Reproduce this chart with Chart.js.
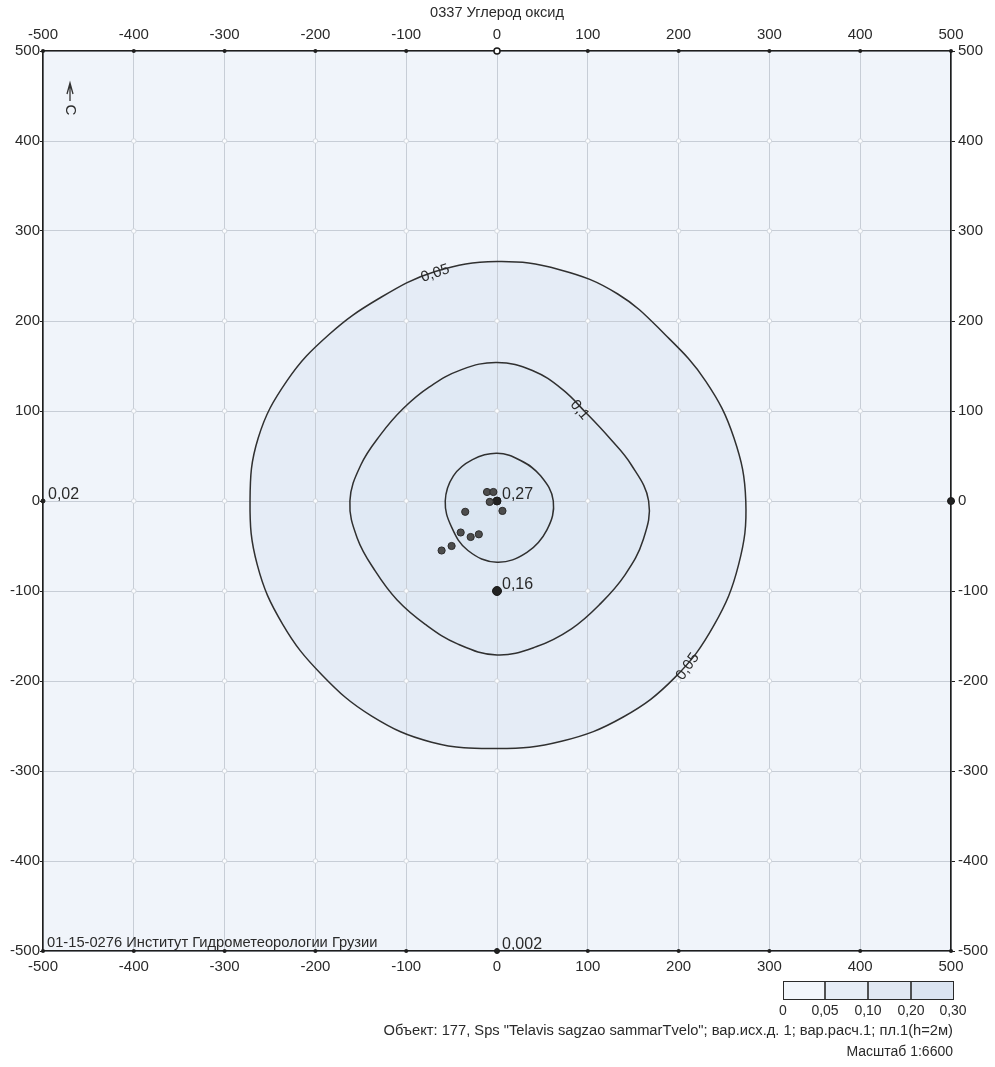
<!DOCTYPE html>
<html>
<head>
<meta charset="utf-8">
<script src="https://cdn.jsdelivr.net/npm/chart.js@4.4.1/dist/chart.umd.min.js"></script>
<style>
  html, body { margin: 0; padding: 0; background: #ffffff; }
  #wrap { width: 995px; height: 1067px; }
</style>
</head>
<body>
<div id="wrap"><canvas id="c" width="995" height="1067"></canvas></div>
<script>
// ---- data -------------------------------------------------------------
const title = '0337 Углерод оксид';
const axisTicks = [-500, -400, -300, -200, -100, 0, 100, 200, 300, 400, 500];

// isolines, metres from the site centre, traced counter-clockwise from the east
const isoline005 = [
  [274, 0], [261, 70], [230, 133], [185, 185], [133, 230], [69, 257], [0, 266],
  [-68, 255], [-130, 225], [-185, 185], [-231, 134], [-263, 70], [-272, 0],
  [-264, -71], [-236, -137], [-193, -193], [-138, -239], [-72, -268], [0, -275],
  [71, -267], [139, -240], [196, -196], [239, -138], [266, -71]
];
const isoline01 = [
  [167, 0], [148, 40], [123, 71], [98, 98], [72, 124], [39, 145], [0, 154],
  [-39, 146], [-74, 127], [-103, 103], [-128, 74], [-150, 40], [-162, 0],
  [-154, -41], [-134, -78], [-110, -110], [-79, -137], [-43, -159], [0, -171],
  [43, -162], [82, -142], [114, -114], [141, -82], [161, -43]
];
const isoline02 = [
  [62, 0], [48, 28], [26, 45], [0, 53], [-27, 46], [-48, 28], [-57, 0],
  [-50, -29], [-32, -55], [0, -68], [33, -57], [55, -32]
];

// emission sources
const sourceX = [-11, -4, -8, 6, -35, -40, -29, -20, -50, -61];
const sourceY = [10, 10, -1, -11, -12, -35, -40, -37, -50, -55];

// calculated points with their concentrations
const markerX = [0, 0, -500, 0, 500, 0];
const markerY = [0, -100, 0, -500, 0, 500];
const markerText = ['0,27', '0,16', '0,02', '0,002', '', ''];

// isoline captions
const isolineCaption = ['0,05', '0,1', '0,05'];
const captionX = [-68, 91, 210];
const captionY = [253, 101, -184];

const legendLevels = ['0', '0,05', '0,10', '0,20', '0,30'];
const orgNote = '01-15-0276 Институт Гидрометеорологии Грузии';
const footerLines = [
  'Объект: 177, Sps "Telavis sagzao sammarTvelo"; вар.исх.д. 1; вар.расч.1; пл.1(h=2м)',
  'Масштаб 1:6600'
];

// ---- styling ----------------------------------------------------------
const FONT = '"Liberation Sans", Arial, sans-serif';
const PLOT_BG = '#f0f4fa';
const GRID = '#c7cdd6';
const INK = '#2a2a2a';
const LEVEL_FILL = ['rgba(140,170,215,0.10)', 'rgba(140,170,215,0.05)', 'rgba(140,170,215,0.05)'];
const LEGEND_FILL = ['#f2f6fb', '#e6edf6', '#e1e8f3', '#dbe4f1'];
const CAPTION_ANGLE = [-19, 50, -55];

const toXY = arr => arr.map(p => ({ x: p[0], y: p[1] }));
const isolines = [isoline005, isoline01, isoline02];

const isolineSets = isolines.map(l => ({
  type: 'scatter',
  data: toXY(l),
  showLine: true,
  tension: 0.4,
  borderColor: '#303030',
  borderWidth: 1.5,
  pointRadius: 0,
  pointHoverRadius: 0,
  fill: false,
  isIsoline: true
}));

const sourceSet = {
  type: 'scatter',
  data: sourceX.map((x, i) => ({ x, y: sourceY[i] })),
  pointRadius: 3.6,
  pointBackgroundColor: '#4d4d4d',
  pointBorderColor: '#2b2b2b',
  pointBorderWidth: 1
};

const markerRadius = [4, 4.5, 2, 2.5, 3.5, 3];
const markerSet = {
  type: 'scatter',
  data: markerX.map((x, i) => ({ x, y: markerY[i] })),
  clip: false,
  pointRadius: ctx => markerRadius[ctx.dataIndex],
  pointBackgroundColor: ctx => (ctx.dataIndex === 5 ? '#ffffff' : '#222222'),
  pointBorderColor: '#1a1a1a',
  pointBorderWidth: ctx => (ctx.dataIndex === 5 ? 1.5 : 1)
};

// closes the isolines into smooth loops and paints the level fills
const isolinePlugin = {
  id: 'isolines',
  afterDatasetsUpdate(chart) {
    chart.data.datasets.forEach((ds, i) => {
      if (!ds.isIsoline) return;
      const line = chart.getDatasetMeta(i).dataset;
      if (!line) return;
      line._loop = true;
      line._fullLoop = true;
      delete line._segments;
      line._pointsUpdated = false;
      line.updateControlPoints(chart.chartArea, 'x');
    });
  },
  beforeDraw(chart) {
    const { ctx, chartArea: a } = chart;
    ctx.save();
    ctx.fillStyle = '#ffffff';
    ctx.fillRect(0, 0, chart.width, chart.height);
    ctx.fillStyle = PLOT_BG;
    ctx.fillRect(a.left, a.top, a.right - a.left, a.bottom - a.top);
    let k = 0;
    chart.data.datasets.forEach((ds, i) => {
      if (!ds.isIsoline) return;
      const line = chart.getDatasetMeta(i).dataset;
      if (!line) return;
      ctx.beginPath();
      line.path(ctx);
      ctx.closePath();
      ctx.fillStyle = LEVEL_FILL[k++];
      ctx.fill();
    });
    ctx.restore();
  }
};

// grid node rings and axis tick dots
const gridNodes = {
  id: 'gridNodes',
  beforeDatasetsDraw(chart) {
    const { ctx, scales } = chart;
    const xs = scales.x, ys = scales.y;
    ctx.save();
    ctx.lineWidth = 1;
    axisTicks.forEach(tx => {
      axisTicks.forEach(ty => {
        if (Math.abs(tx) === 500 || Math.abs(ty) === 500) return;
        ctx.beginPath();
        ctx.arc(xs.getPixelForValue(tx), ys.getPixelForValue(ty), 2.3, 0, Math.PI * 2);
        ctx.fillStyle = '#fbfcfe';
        ctx.fill();
        ctx.strokeStyle = '#d3d8df';
        ctx.stroke();
      });
    });
    ctx.fillStyle = '#1e1e1e';
    axisTicks.forEach(t => {
      const px = xs.getPixelForValue(t);
      [ys.getPixelForValue(500), ys.getPixelForValue(-500)].forEach(py => {
        ctx.beginPath();
        ctx.arc(px, py, 2, 0, Math.PI * 2);
        ctx.fill();
      });
    });
    ctx.restore();
  }
};

// concentration values, isoline captions and sheet annotations
const annotations = {
  id: 'annotations',
  afterDatasetsDraw(chart) {
    const { ctx, scales } = chart;
    const xs = scales.x, ys = scales.y;
    ctx.save();
    ctx.fillStyle = INK;
    ctx.font = '16px ' + FONT;
    ctx.textAlign = 'left';
    ctx.textBaseline = 'middle';
    markerText.forEach((t, i) => {
      if (!t) return;
      ctx.fillText(t, xs.getPixelForValue(markerX[i]) + 5, ys.getPixelForValue(markerY[i]) - 6);
    });

    ctx.font = '15px ' + FONT;
    ctx.textAlign = 'center';
    isolineCaption.forEach((t, i) => {
      ctx.save();
      ctx.translate(xs.getPixelForValue(captionX[i]), ys.getPixelForValue(captionY[i]));
      ctx.rotate(CAPTION_ANGLE[i] * Math.PI / 180);
      ctx.fillText(t, 0, 0);
      ctx.restore();
    });

    const a = chart.chartArea;
    ctx.textAlign = 'left';
    ctx.font = '14.7px ' + FONT;
    ctx.fillText(orgNote, a.left + 4, a.bottom - 8);

    // north arrow
    const nx = a.left + 27, ny = a.top + 32;
    ctx.strokeStyle = '#333';
    ctx.lineWidth = 1.3;
    ctx.beginPath();
    ctx.moveTo(nx, ny);
    ctx.lineTo(nx, ny + 18);
    ctx.moveTo(nx - 3, ny + 11);
    ctx.lineTo(nx, ny);
    ctx.lineTo(nx + 3, ny + 11);
    ctx.stroke();
    ctx.save();
    ctx.translate(nx, ny + 27);
    ctx.rotate(Math.PI / 2);
    ctx.font = '15px ' + FONT;
    ctx.textAlign = 'center';
    ctx.fillText('С', 0, 0);
    ctx.restore();
    ctx.restore();
  },
  afterDraw(chart) {
    const { ctx } = chart;
    ctx.save();
    ctx.fillStyle = INK;
    ctx.textBaseline = 'middle';
    ctx.font = '14.6px ' + FONT;
    ctx.textAlign = 'center';
    ctx.fillText(title, 497, 13);

    // concentration scale
    const bx = [783, 825, 868, 911, 953];
    const top = 981, h = 18;
    for (let i = 0; i < 4; i++) {
      ctx.fillStyle = LEGEND_FILL[i];
      ctx.fillRect(bx[i], top, bx[i + 1] - bx[i], h);
    }
    ctx.strokeStyle = '#2a2a2a';
    ctx.lineWidth = 1;
    ctx.strokeRect(bx[0] + 0.5, top + 0.5, bx[4] - bx[0], h);
    ctx.lineWidth = 1.6;
    for (let i = 1; i < 4; i++) {
      ctx.beginPath();
      ctx.moveTo(bx[i], top);
      ctx.lineTo(bx[i], top + h);
      ctx.stroke();
    }
    ctx.fillStyle = INK;
    ctx.font = '14px ' + FONT;
    legendLevels.forEach((t, i) => ctx.fillText(t, bx[i], 1011));

    ctx.textAlign = 'right';
    ctx.font = '14.7px ' + FONT;
    ctx.fillText(footerLines[0], 953, 1031);
    ctx.font = '14px ' + FONT;
    ctx.fillText(footerLines[1], 953, 1052);
    ctx.restore();
  }
};

const tickFont = { family: FONT, size: 15 };
const setTicks = s => { s.ticks = axisTicks.map(v => ({ value: v })); };
const border = { display: true, color: '#1e1e1e', width: 1.6 };

new Chart(document.getElementById('c'), {
  type: 'scatter',
  data: { datasets: [...isolineSets, sourceSet, markerSet] },
  plugins: [isolinePlugin, gridNodes, annotations],
  options: {
    responsive: false,
    animation: false,
    events: [],
    layout: { padding: { left: 0, right: 0, top: 0, bottom: 86 } },
    plugins: { legend: { display: false }, tooltip: { enabled: false }, title: { display: false } },
    scales: {
      x: {
        type: 'linear', position: 'bottom', min: -500, max: 500,
        afterBuildTicks: setTicks,
        afterFit: s => { s.height = 30; },
        grid: { color: GRID, lineWidth: 1, drawTicks: true, tickLength: 4, tickColor: 'rgba(0,0,0,0)' },
        border,
        ticks: { font: tickFont, color: INK, padding: 3, maxRotation: 0, autoSkip: false }
      },
      x2: {
        type: 'linear', position: 'top', min: -500, max: 500,
        afterBuildTicks: setTicks,
        afterFit: s => { s.height = 51; },
        grid: { drawOnChartArea: false, tickLength: 4, tickColor: 'rgba(0,0,0,0)' },
        border,
        ticks: { font: tickFont, color: INK, padding: 3, maxRotation: 0, autoSkip: false }
      },
      y: {
        type: 'linear', position: 'left', min: -500, max: 500,
        afterBuildTicks: setTicks,
        afterFit: s => { s.width = 43; },
        grid: { color: GRID, lineWidth: 1, tickLength: 3, tickColor: '#1e1e1e' },
        border,
        ticks: { font: tickFont, color: INK, padding: 0, autoSkip: false }
      },
      y2: {
        type: 'linear', position: 'right', min: -500, max: 500,
        afterBuildTicks: setTicks,
        afterFit: s => { s.width = 44; },
        grid: { drawOnChartArea: false, tickLength: 4, tickColor: '#1e1e1e' },
        border,
        ticks: { font: tickFont, color: INK, padding: 3, autoSkip: false }
      }
    }
  }
});
</script>
</body>
</html>
